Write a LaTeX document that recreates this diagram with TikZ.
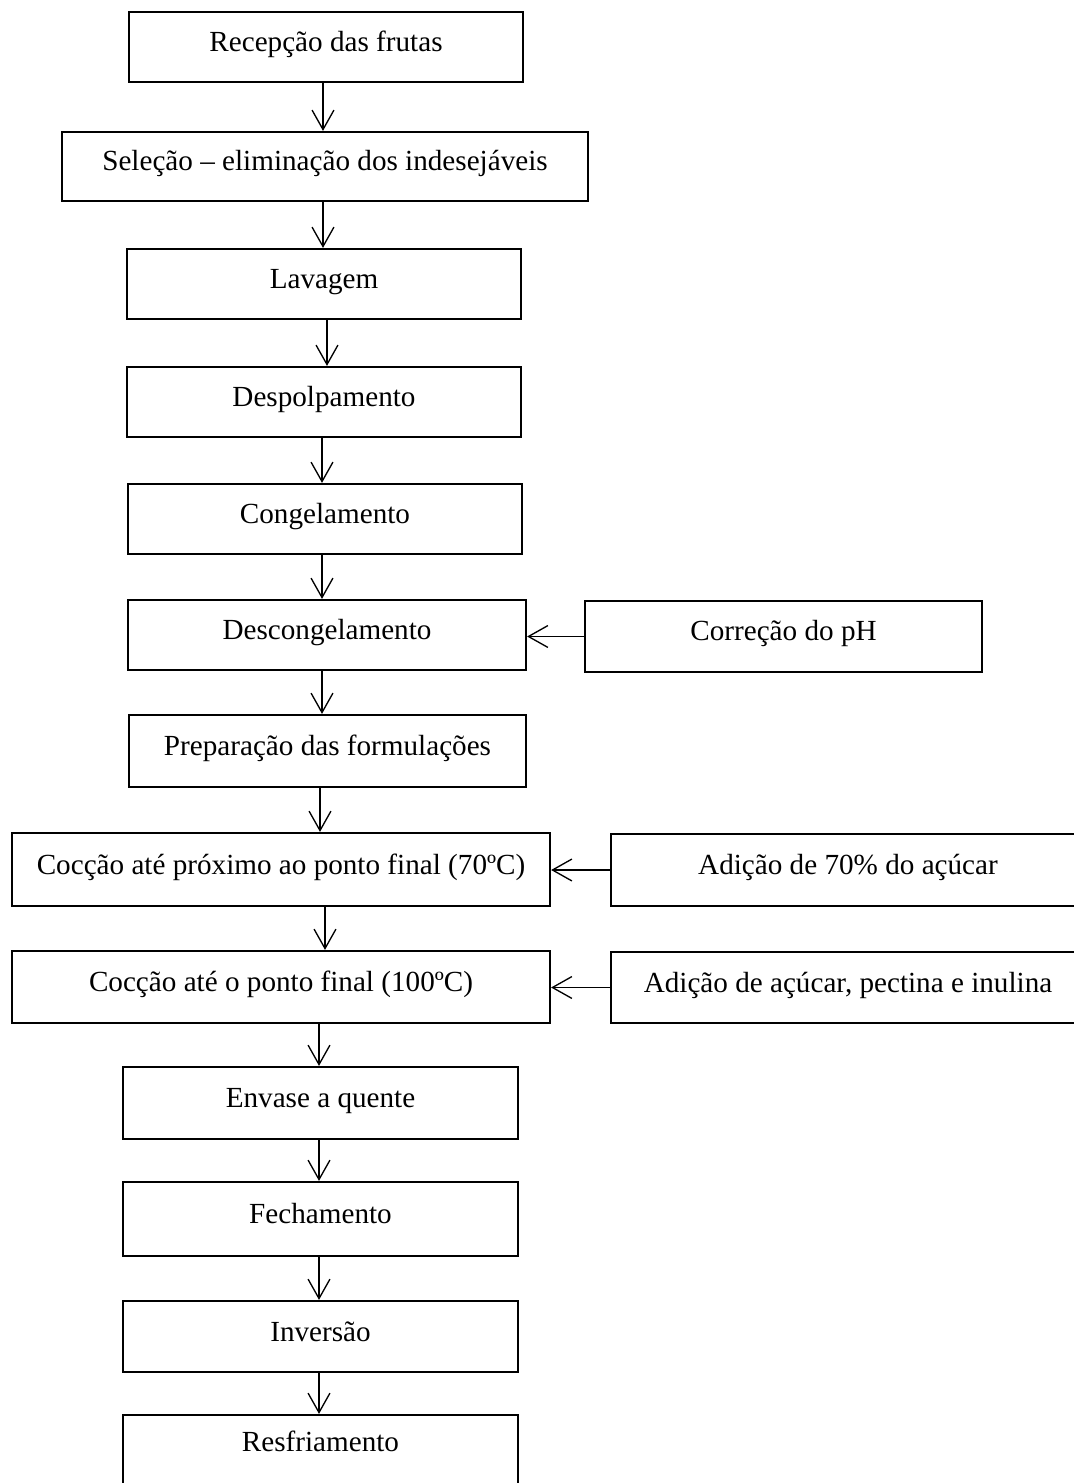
\documentclass[tikz,border=0pt]{standalone}
\usepackage{fontspec}
\setmainfont{Liberation Serif}
\usetikzlibrary{arrows.meta}
\newdimen\pxu
\pxu=0.4115pt
\tikzset{
  box/.style={draw=black, line width=0.9pt, fill=white, inner sep=0pt,
    font=\fontsize{12pt}{14pt}\selectfont, text height=8pt, text depth=4.3pt,
    align=center},
  arr/.style={draw=black, line width=0.55pt, -{Straight Barb[length=8pt,width=9pt,line width=0.55pt]}}
}
\newcommand\fbx[7][]{\node[box, #1, minimum width={(#5-#3)*\pxu}, minimum height={(#6-#4)*\pxu}] (#2) at ({(#3+#5)/2},{(#4+#6)/2}) {#7};}
\begin{document}
\begin{tikzpicture}[x=0.4115pt,y=-0.4115pt]
\useasboundingbox (0,0) rectangle (1073,1483);
\fill[white] (0,0) rectangle (1073,1483);
% main column
\fbx{n1}{129}{12}{523}{82}{Recepção das frutas}
\fbx{n2}{62}{132}{588}{201}{Seleção – eliminação dos indesejáveis}
\fbx{n3}{127}{249}{521}{319}{Lavagem}
\fbx{n4}{127}{367}{521}{437}{Despolpamento}
\fbx{n5}{128}{484}{522}{554}{Congelamento}
\fbx{n6}{128}{600}{526}{670}{Descongelamento}
\fbx{n7}{129}{715}{526}{787}{Preparação das formulações}
\fbx{n8}{12}{833}{550}{906}{Cocção até próximo ao ponto final (70ºC)}
\fbx{n9}{12}{951}{550}{1023}{Cocção até o ponto final (100ºC)}
\fbx{n10}{123}{1067}{518}{1139}{Envase a quente}
\fbx{n11}{123}{1182}{518}{1256}{Fechamento}
\fbx{n12}{123}{1301}{518}{1372}{Inversão}
\fbx[text height=6pt, text depth=9.6pt]{n13}{123}{1415}{518}{1497}{Resfriamento}
% side boxes
\fbx{s1}{585}{601}{982}{672}{Correção do pH}
\fbx{s2}{611}{834}{1085}{906}{Adição de 70\% do açúcar}
\fbx{s3}{611}{952}{1085}{1023}{Adição de açúcar, pectina e inulina}
% arrow columns
\coordinate (c1) at (323,0);
\coordinate (c3) at (327,0);
\coordinate (c4) at (322,0);
\coordinate (c7) at (320,0);
\coordinate (c8) at (325,0);
\coordinate (c9) at (319,0);
\draw[arr] (n1.south -| c1) -- (n2.north -| c1);
\draw[arr] (n2.south -| c1) -- (n3.north -| c1);
\draw[arr] (n3.south -| c3) -- (n4.north -| c3);
\draw[arr] (n4.south -| c4) -- (n5.north -| c4);
\draw[arr] (n5.south -| c4) -- (n6.north -| c4);
\draw[arr] (n6.south -| c4) -- (n7.north -| c4);
\draw[arr] (n7.south -| c7) -- (n8.north -| c7);
\draw[arr] (n8.south -| c8) -- (n9.north -| c8);
\draw[arr] (n9.south -| c9) -- (n10.north -| c9);
\draw[arr] (n10.south -| c9) -- (n11.north -| c9);
\draw[arr] (n11.south -| c9) -- (n12.north -| c9);
\draw[arr] (n12.south -| c9) -- (n13.north -| c9);
% side arrows
\draw[arr] (s1.west) -- (n6.east |- s1.west);
\draw[arr] (s2.west) -- (n8.east |- s2.west);
\draw[arr] (s3.west) -- (n9.east |- s3.west);
\end{tikzpicture}
\end{document}
